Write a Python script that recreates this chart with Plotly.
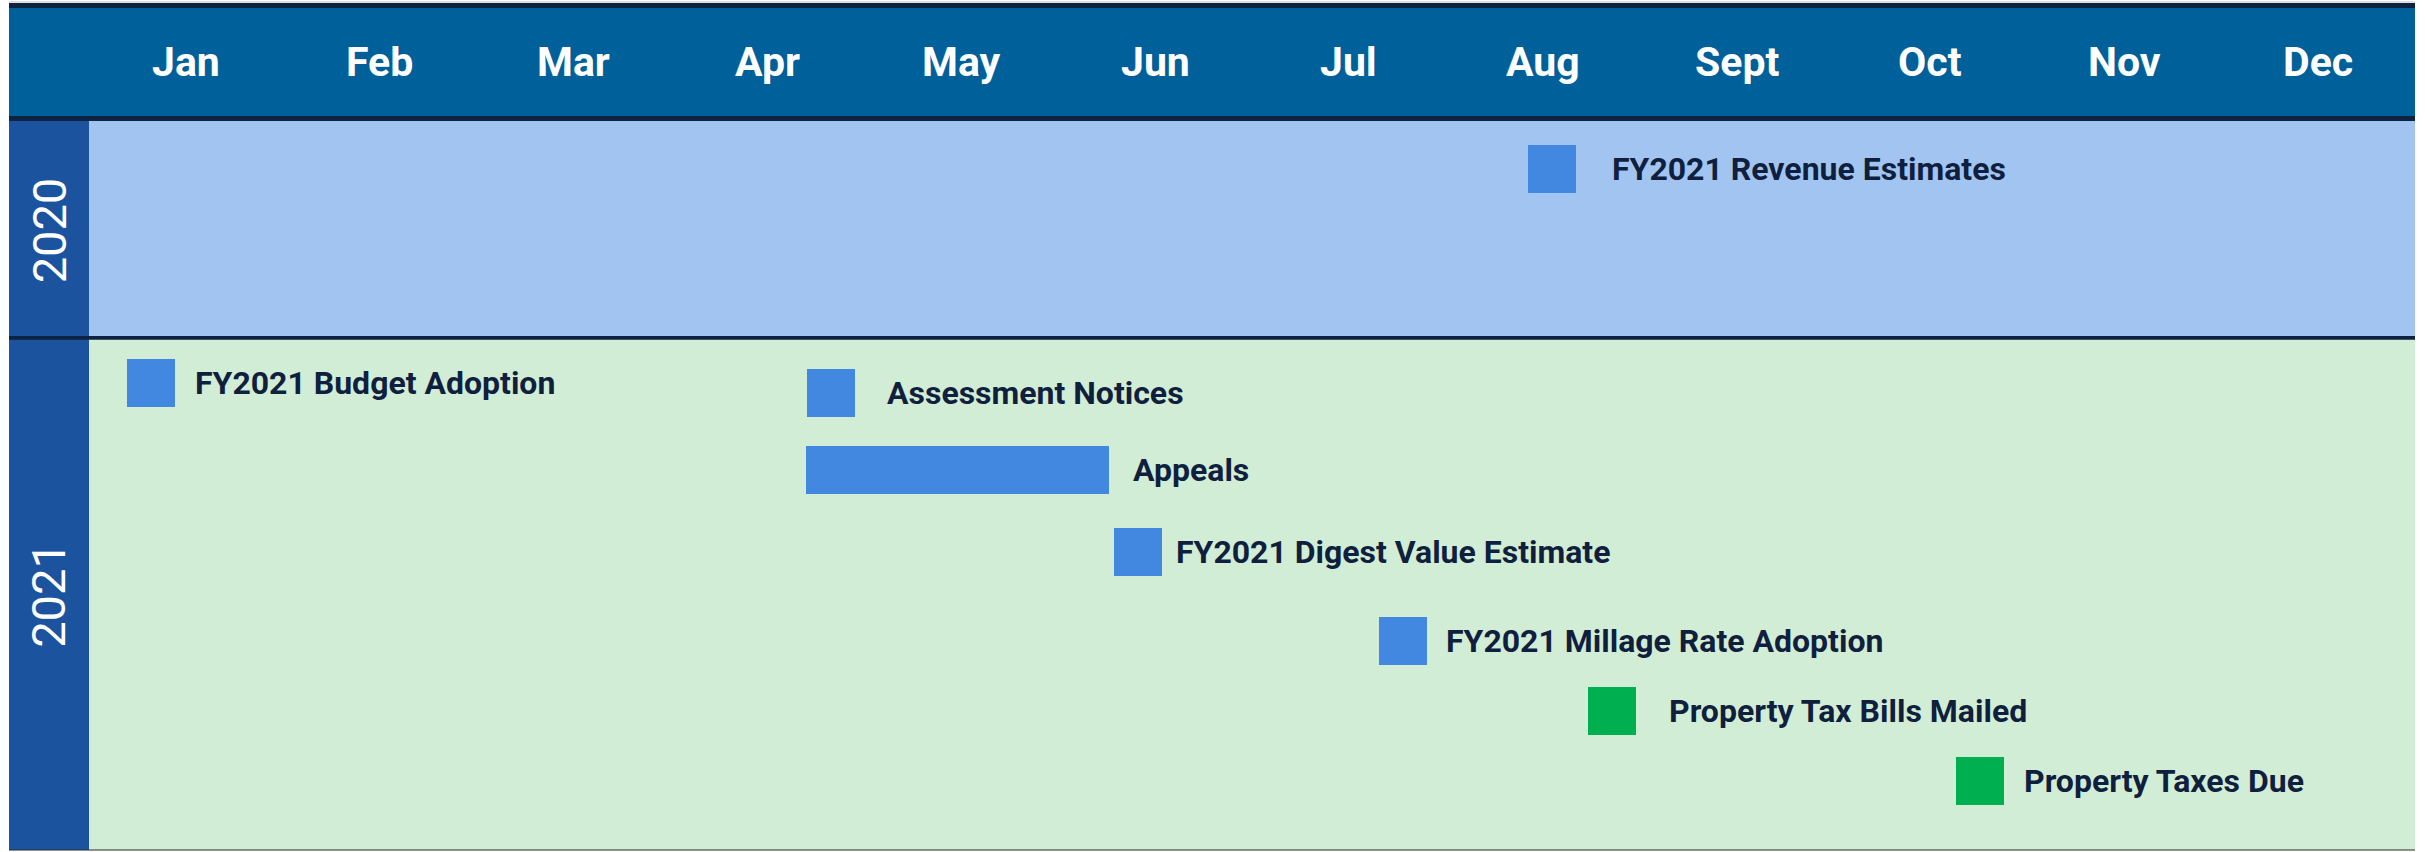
import plotly.graph_objects as go

# ---------------- data ----------------
months = ["Jan", "Feb", "Mar", "Apr", "May", "Jun", "Jul", "Aug", "Sept", "Oct", "Nov", "Dec"]
years = ["2020", "2021"]
year_rows = [3, 7]  # number of lanes in each year band

tasks = [
    "FY2021 Revenue Estimates",
    "FY2021 Budget Adoption",
    "Assessment Notices",
    "Appeals",
    "FY2021 Digest Value Estimate",
    "FY2021 Millage Rate Adoption",
    "Property Tax Bills Mailed",
    "Property Taxes Due",
]
task_year = ["2020", "2021", "2021", "2021", "2021", "2021", "2021", "2021"]
task_type = ["budget", "budget", "budget", "budget", "budget", "budget", "tax", "tax"]
# start / end in months from the beginning of January
start_month = [7.424, 0.196, 3.704, 3.699, 5.288, 6.655, 7.734, 9.632]
end_month = [7.672, 0.444, 3.952, 5.262, 5.536, 6.903, 7.981, 9.880]
# lane (row) position inside the timeline
lane = [0.658, 3.594, 3.731, 4.787, 5.912, 7.133, 8.093, 9.053]

# ---------------- style ----------------
W, H = 2425, 852
ML, MR, MT, MB = 9, 10, 3, 2
HEADER_TOP = -1.619
HEADER_LINE = 0.069
YEAR_COL = 0.4127
BAR_H = 0.658
label_gap_px = [34, 18, 30, 22, 12, 17, 31, 18]

C_HEADER = "#00609A"
C_LINE = "#0D2341"
C_YEARCOL = "#1B539E"
C_BAND = {"2020": "#A2C4F0", "2021": "#D2EDD5"}
C_BAR = {"budget": "#4388E0", "tax": "#00B050"}
C_TEXT = "#0F1F3D"

total_rows = sum(year_rows)
x0, x1 = -YEAR_COL, len(months)

fig = go.Figure()

fig.add_trace(go.Bar(
    orientation="h",
    y=lane,
    x=[e - s for s, e in zip(start_month, end_month)],
    base=start_month,
    width=BAR_H,
    marker=dict(color=[C_BAR[t] for t in task_type], line=dict(width=0)),
    hoverinfo="text",
    hovertext=tasks,
    showlegend=False,
))

shapes = []
# header
shapes.append(dict(type="rect", xref="x", yref="y", x0=x0, x1=x1, y0=HEADER_TOP, y1=0,
                   fillcolor=C_HEADER, line=dict(width=0), layer="below"))
shapes.append(dict(type="rect", xref="x", yref="y", x0=x0, x1=x1, y0=HEADER_TOP, y1=HEADER_TOP + HEADER_LINE,
                   fillcolor=C_LINE, line=dict(width=0), layer="below"))
shapes.append(dict(type="rect", xref="x", yref="y", x0=x0, x1=x1, y0=-HEADER_LINE, y1=0,
                   fillcolor=C_LINE, line=dict(width=0), layer="below"))

annotations = []
header_mid = (HEADER_TOP + HEADER_LINE - HEADER_LINE) / 2
for i, m in enumerate(months):
    annotations.append(dict(x=i + 0.5, y=header_mid,
                            xref="x", yref="y", text=m, showarrow=False,
                            font=dict(family="Roboto", size=41, color="white", weight="bold"),
                            xanchor="center", yanchor="middle"))

# year bands
row0 = 0
for yr, n in zip(years, year_rows):
    shapes.append(dict(type="rect", xref="x", yref="y", x0=0, x1=x1, y0=row0, y1=row0 + n,
                       fillcolor=C_BAND[yr], line=dict(width=0), layer="below"))
    shapes.append(dict(type="rect", xref="x", yref="y", x0=x0, x1=0, y0=row0, y1=row0 + n,
                       fillcolor=C_YEARCOL, line=dict(width=0), layer="below"))
    annotations.append(dict(x=-YEAR_COL / 2, y=row0 + n / 2, xref="x", yref="y", text=yr,
                            showarrow=False, textangle=-90,
                            font=dict(family="Roboto", size=47, color="white"),
                            xanchor="center", yanchor="middle"))
    row0 += n
    if row0 < total_rows:
        shapes.append(dict(type="rect", xref="x", yref="y", x0=x0, x1=x1,
                           y0=row0 - 0.05, y1=row0 + 0.02,
                           fillcolor=C_LINE, line=dict(width=0), layer="below"))

# thin outer border lines
shapes.append(dict(type="line", xref="x", yref="paper", x0=x0, x1=x1, y0=1.0012, y1=1.0012,
                   line=dict(color="rgba(0,0,0,0.25)", width=1)))
shapes.append(dict(type="line", xref="x", yref="paper", x0=x0, x1=x1, y0=0, y1=0,
                   line=dict(color="rgba(40,40,40,0.5)", width=2)))

# task labels
for t, e, ln, g in zip(tasks, end_month, lane, label_gap_px):
    annotations.append(dict(x=e, y=ln, xref="x", yref="y", text=t, showarrow=False,
                            xanchor="left", yanchor="middle", xshift=g,
                            font=dict(family="Roboto", size=32, color=C_TEXT, weight="bold")))

fig.update_layout(
    width=W, height=H,
    margin=dict(l=ML, r=MR, t=MT, b=MB, pad=0),
    paper_bgcolor="white", plot_bgcolor="white",
    xaxis=dict(range=[x0, x1], visible=False, fixedrange=True),
    yaxis=dict(range=[total_rows, HEADER_TOP], visible=False, fixedrange=True),
    shapes=shapes, annotations=annotations,
    bargap=0, barmode="overlay",
)

fig.write_html("out.html", config={"displayModeBar": False},
               post_script="document.body.style.margin='0';")
